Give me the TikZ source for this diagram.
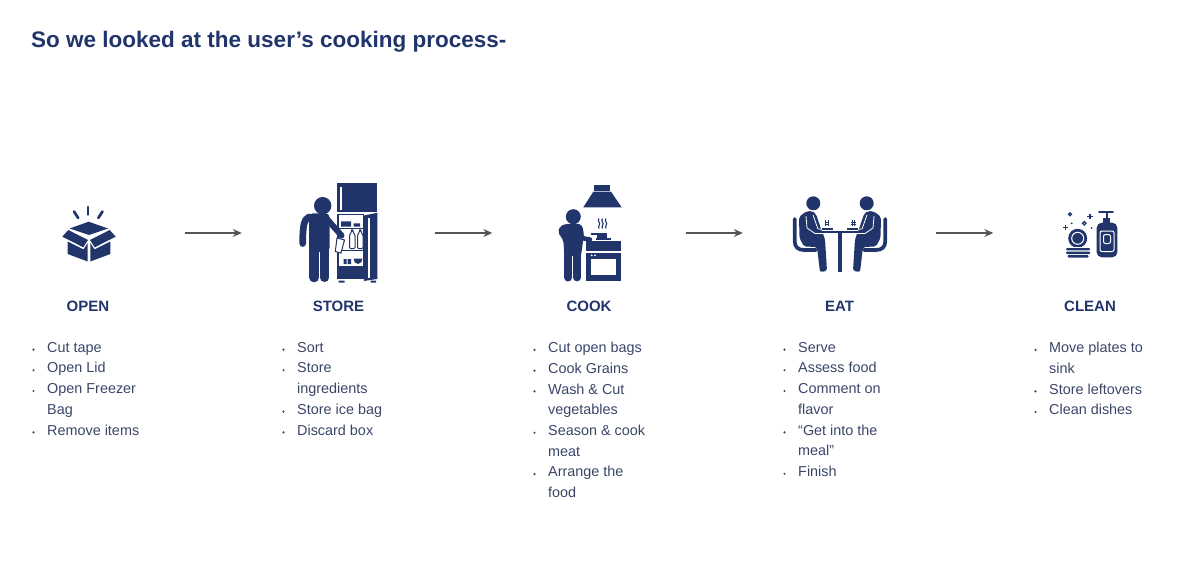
\documentclass[tikz,border=0pt]{standalone}
\usepackage{fontspec}
\setmainfont{Liberation Sans}
\usepackage{tikz}
\usetikzlibrary{positioning, arrows.meta}
\definecolor{navy}{HTML}{21356B}
\definecolor{slate}{HTML}{3A4568}
\definecolor{arrowgrey}{HTML}{555555}
\newcommand{\itm}{\llap{\raisebox{1.5pt}{\tikz\fill[slate] circle (1.2pt);}\hspace{12.5pt}}}

\begin{document}
\begin{tikzpicture}[x=1pt, y=-1pt, node distance=250.5pt,
  iconslot/.style={minimum width=193pt, minimum height=100pt, inner sep=0pt},
  steplabel/.style={text=navy, inner sep=0pt, node distance=73pt, font=\fontsize{15}{18}\selectfont\bfseries},
  steplist/.style={anchor=north west, align=left, inner sep=0pt, text=slate, font=\fontsize{14.4}{20.7}\selectfont},
  flow/.style={arrowgrey, line width=1.3pt, -{Stealth[length=9pt, width=8pt]}},
  limb/.style={navy, line cap=round, line join=round},
  cut/.style={white, line width=.8pt, line join=round}]
\useasboundingbox (0,0) rectangle (1179,575);

\node (title) [anchor=west, inner sep=0pt, text=navy, font=\fontsize{22.5}{28}\selectfont\bfseries] at (31,42) {So we looked at the user’s cooking process-};

\node (open) [iconslot] at (88,233) {};
\node (store) [iconslot, right of=open] {};
\node (cook) [iconslot, right of=store] {};
\node (eat) [iconslot, right of=cook] {};
\node (clean) [iconslot, right of=eat] {};

\draw[flow] (open) -- (store);
\draw[flow] (store) -- (cook);
\draw[flow] (cook) -- (eat);
\draw[flow] (eat) -- (clean);

\node (openlabel) [steplabel, below of=open] {OPEN};
\node (storelabel) [steplabel, below of=store] {STORE};
\node (cooklabel) [steplabel, below of=cook] {COOK};
\node (eatlabel) [steplabel, below of=eat] {EAT};
\node (cleanlabel) [steplabel, below of=clean] {CLEAN};

\node (openlist) [steplist] at (47,342) {\itm Cut tape\\\itm Open Lid\\\itm Open Freezer\\Bag\\\itm Remove items};
\node (storelist) [steplist] at (297,342) {\itm Sort\\\itm Store\\ingredients\\\itm Store ice bag\\\itm Discard box};
\node (cooklist) [steplist] at (548,342) {\itm Cut open bags\\\itm Cook Grains\\\itm Wash \& Cut\\vegetables\\\itm Season \& cook\\meat\\\itm Arrange the\\food};
\node (eatlist) [steplist] at (798,342) {\itm Serve\\\itm Assess food\\\itm Comment on\\flavor\\\itm “Get into the\\meal”\\\itm Finish};
\node (cleanlist) [steplist] at (1049,342) {\itm Move plates to\\sink\\\itm Store leftovers\\\itm Clean dishes};

% open box
\draw[limb, line width=2.7pt] (88,207) -- (88,214.5);
\draw[limb, line width=2.7pt] (74,211.5) -- (78.2,218);
\draw[limb, line width=2.7pt] (102.5,211.5) -- (98.3,218);
\fill[navy] (88.7,221.7) -- (108,228.5) -- (89,235) -- (69.5,228.5) -- cycle;
\fill[navy] (68.3,230) -- (88,240) -- (83.3,247.3) -- (62.3,236.7) -- cycle;
\fill[navy] (109.7,230) -- (90,240) -- (94.7,247.3) -- (115.7,236.7) -- cycle;
\fill[navy] (67.7,241.5) -- (83.5,249.5) -- (87.7,243) -- (87.7,261.5) -- (67.7,254) -- cycle;
\fill[navy] (110.3,241.5) -- (94.5,249.5) -- (90.3,243) -- (90.3,261.5) -- (110.3,254) -- cycle;

% fridge and person
\fill[navy] (337.3,183.3) rectangle (377.3,212.3);
\fill[white] (340,187) rectangle (342,210);
\draw[navy, line width=1.2pt] (338,214.6) rectangle (363.5,278);
\draw[navy, line width=1pt] (338,228.5) -- (363.5,228.5) (338,250) -- (363.5,250);
\fill[navy] (338,265.7) rectangle (363.5,276.5);
\fill[navy] (341,221.5) rectangle (351,226.5) (353.5,223.5) rectangle (360,226.5);
\fill[navy] (363.8,215.5) -- (377.3,212.8) -- (377.3,279) -- (363.8,281) -- cycle;
\fill[white] (367.5,218) rectangle (369.5,278);
\draw[navy, fill=white, line width=1pt, rounded corners=1pt] (349.5,241) -- (349.5,235) -- (351.5,232) -- (351.5,230.5) -- (353,230.5) -- (353,232) -- (355,235) -- (355,248.5) -- (349.5,248.5) -- cycle;
\draw[navy, fill=white, line width=1pt, rounded corners=1pt] (357.5,241) -- (357.5,235) -- (359.5,232) -- (359.5,230.5) -- (361,230.5) -- (361,232) -- (363,235) -- (363,248.5) -- (357.5,248.5) -- cycle;
\fill[navy] (343.5,259) rectangle (346.5,264) (347.5,259) rectangle (351,264);
\fill[navy] (353.5,258.5) arc[start angle=180, end angle=360, x radius=4.5, y radius=-5.5] -- cycle;
\fill[navy] (338.5,280.5) rectangle (344.5,282.5) (370.5,280.5) rectangle (376,282.5);
\fill[navy] (322.7,205.7) circle (8.7);
\fill[navy, rounded corners=4pt] (309,213.3) -- (329.5,213.3) -- (329.5,252) -- (309.3,252) -- cycle;
\draw[limb, line width=9.7pt] (314.2,245) -- (314.2,277.5);
\draw[limb, line width=9pt] (324.5,245) -- (324.5,277.5);
\draw[limb, line width=6.7pt] (309,217) .. controls (304,219) and (302.7,226) .. (302.7,243.5);
\draw[limb, line width=6pt] (326,218) -- (341.5,235.5);
\draw[navy, fill=white, line width=1pt] (337,238) -- (344.5,240) -- (341,253) -- (335.3,251.5) -- cycle;

% hood, stove and person
\fill[navy] (594.3,185) rectangle (610,190.7);
\fill[navy] (593.3,191.7) -- (611,191.7) -- (621.7,207.3) -- (583.3,207.3) -- cycle;
\foreach \steamx in {599,602.5,606} {
  \draw[navy, line width=1.1pt] (\steamx,218.5) .. controls (\steamx-2.5,221) and (\steamx+2.5,223) .. (\steamx,225.5) .. controls (\steamx-1,227) and (\steamx,228) .. (\steamx,228.5);
}
\fill[navy] (596.7,232.5) rectangle (607.3,237.7);
\fill[navy] (591,233.3) rectangle (597,234.7);
\fill[navy] (595.5,238.3) rectangle (611,239.7);
\fill[navy] (585.7,241.3) rectangle (620.7,251);
\fill[navy] (585.7,252.7) rectangle (620.7,280.7);
\fill[white] (590.5,259.3) rectangle (616,275.3);
\fill[white] (591.7,255.3) circle (1) (595,255.3) circle (1);
\fill[navy] (573.3,216.7) circle (7.5);
\fill[navy, rounded corners=2pt] (560,226.5) -- (565,224) -- (581,224) -- (583.5,230) -- (583.5,238) -- (581,256) -- (564.3,256) -- (563.5,241) -- (558,232) -- cycle;
\draw[limb, line width=8pt] (568.3,250) -- (568.3,277.5);
\draw[limb, line width=7.7pt] (577,250) -- (577,277.5);
\draw[limb, line width=4.5pt] (581,236) -- (584,238.5) -- (590,239.5);

% two people at a table
\fill[navy] (816.7,230.7) rectangle (863.3,232.7);
\fill[navy] (838.3,232) rectangle (842,272);
\foreach \flip/\mid in {1/0pt,-1/1680pt} {
\begin{scope}[xshift=\mid, xscale=\flip]
  \fill[navy] (813.3,203.3) circle (7);
  \draw[limb, line width=3.7pt] (794.7,219) -- (794.7,241) .. controls (794.7,247) and (798,250) .. (804,250) -- (816,250);
  \fill[navy, rounded corners=2pt] (799,217) -- (806,211.5) -- (812,211) -- (816,214) -- (821,229) -- (825,239) -- (827,271) -- (820,272) -- (817,247) -- (804,246.5) -- (799.5,238) -- cycle;
  \draw[cut] (806,216) -- (807,228) -- (815,233.5) -- (826,233.5);
  \draw[cut] (813,215) -- (818,229) -- (827,229.5);
  \draw[navy, line width=.7pt] (825.5,220.5) -- (825.5,226) (828,220.5) -- (828,226) (824.5,222.5) -- (829,222.5) (824.5,224.5) -- (829,224.5);
  \fill[navy] (822,228.2) rectangle (833,229.6);
\end{scope}
}

% dishes and soap bottle
\draw[navy, line width=1.3pt] (1070,214.3) circle (1.5);
\draw[navy, line width=1.3pt] (1084.3,223.3) circle (1.7);
\draw[navy, line width=1.4pt] (1087.3,216.7) -- (1092.7,216.7) (1090,214) -- (1090,219.4);
\draw[navy, line width=1.4pt] (1063,227.7) -- (1068.4,227.7) (1065.7,225) -- (1065.7,230.4);
\fill[navy] (1071.7,223.3) circle (1) (1091.7,228) circle (1);
\fill[navy] (1077.7,238.3) circle (9.5);
\draw[white, line width=1pt] (1077.7,238.3) circle (6);
\fill[white] (1066,247) rectangle (1090,248);
\fill[navy, rounded corners=1pt] (1066,248) rectangle (1090,250.3);
\fill[navy, rounded corners=1pt] (1066,251.5) rectangle (1090,254);
\fill[navy, rounded corners=1pt] (1067.5,255.2) rectangle (1088.5,257.5);
\fill[navy, rounded corners=5pt] (1096.7,257.3) -- (1096.7,222.7) -- (1117.3,222.7) -- (1117.3,257.3) -- cycle;
\fill[navy] (1103.3,218.5) rectangle (1110,223.5);
\fill[navy] (1106,213) rectangle (1108,219);
\draw[navy, line width=1.6pt, line cap=round] (1099,212) -- (1113,212);
\draw[white, line width=1pt, rounded corners=2pt] (1100,231) rectangle (1114,251.5);
\draw[white, line width=1pt, rounded corners=2pt] (1103.5,234.5) rectangle (1110.5,243.5);
\end{tikzpicture}
\end{document}
